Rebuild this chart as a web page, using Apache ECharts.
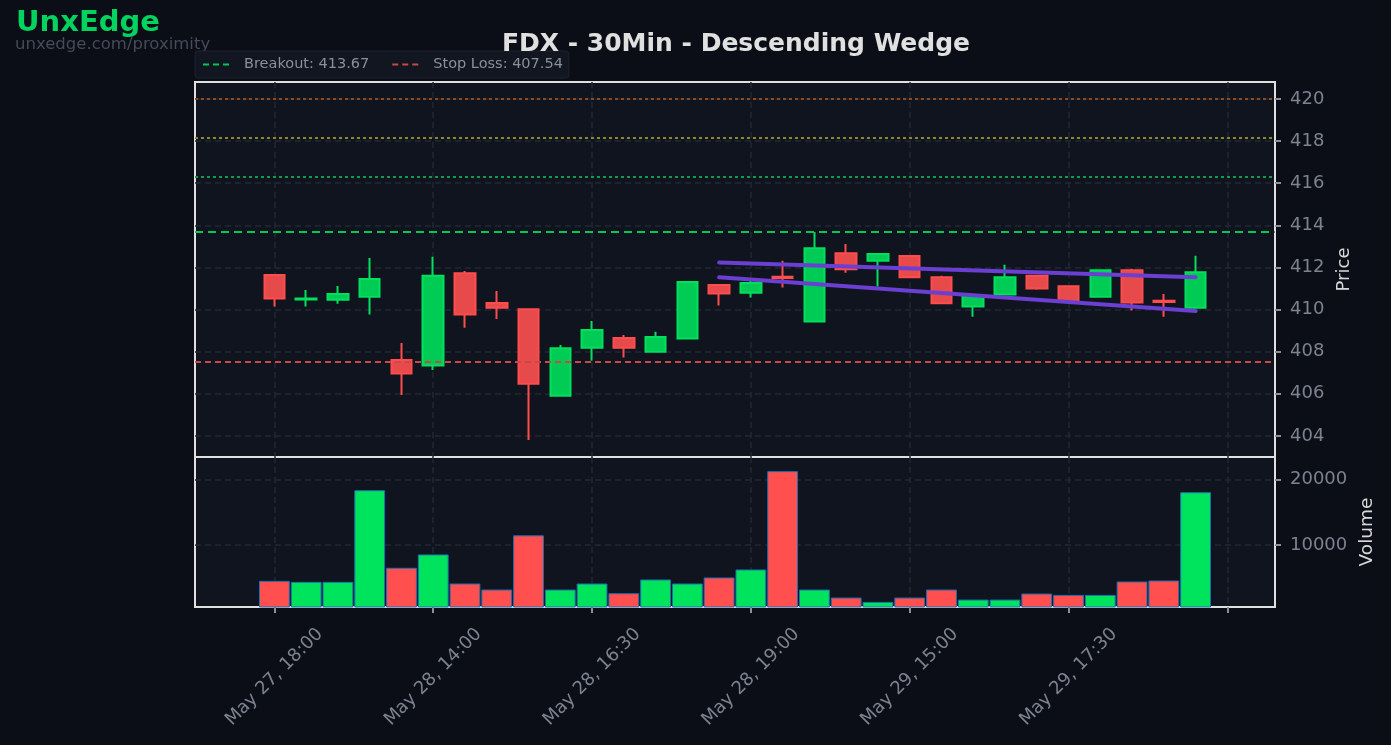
<!DOCTYPE html>
<html><head><meta charset="utf-8">
<script src="https://cdn.jsdelivr.net/npm/echarts@6/dist/echarts.min.js"></script>
<style>html,body{margin:0;padding:0;background:#0b0e17;}#c{width:1391px;height:745px;}</style>
</head><body><div id="c"></div>
<script>
// ---- data ----
const times = [
  'May 27, 18:00','May 27, 18:30','May 27, 19:00','May 27, 19:30',
  'May 28, 13:30','May 28, 14:00','May 28, 14:30','May 28, 15:00','May 28, 15:30','May 28, 16:00',
  'May 28, 16:30','May 28, 17:00','May 28, 17:30','May 28, 18:00','May 28, 18:30','May 28, 19:00','May 28, 19:30',
  'May 29, 13:30','May 29, 14:00','May 29, 14:30','May 29, 15:00','May 29, 15:30','May 29, 16:00',
  'May 29, 16:30','May 29, 17:00','May 29, 17:30','May 29, 18:00','May 29, 18:30','May 29, 19:00','May 29, 19:30'
];
const opens  = [411.64,410.48,410.47,410.61,407.61,407.34,411.72,410.31,410.01,405.91,408.19,408.65,408.00,408.62,411.17,410.80,411.56,409.43,412.67,412.32,412.54,411.53,410.14,410.71,411.60,411.10,410.61,411.87,410.42,410.09];
const closes = [410.52,410.52,410.74,411.45,406.96,411.60,409.76,410.09,406.48,408.16,409.03,408.19,408.70,411.31,410.76,411.26,411.50,412.91,411.91,412.64,411.53,410.30,410.69,411.53,411.00,410.42,411.87,410.33,410.36,411.77];
const lows   = [410.14,410.14,410.28,409.76,405.94,407.13,409.13,409.55,403.81,405.90,407.57,407.72,407.99,408.60,410.19,410.57,411.04,409.41,411.75,411.09,411.51,410.28,409.66,410.69,410.94,410.40,410.59,409.95,409.66,410.07];
const highs  = [411.66,410.93,411.12,412.45,408.41,412.50,411.83,410.88,410.03,408.32,409.46,408.79,408.94,411.33,411.19,411.40,412.31,413.68,413.11,412.66,412.56,411.60,410.74,412.12,411.62,411.12,411.89,411.93,410.74,412.55];
const volumes = [4513,4359,4359,18410,6513,8564,4103,3179,11487,3179,4103,2615,4718,4103,5026,6256,21333,3179,1949,1282,1949,3179,1641,1641,2564,2359,2359,4410,4564,18103];

const breakout = 413.67;
const stopLoss = 407.54;
const targets = [420.00, 418.15, 416.30];
const wedgeStart = 14, wedgeEnd = 29;
const upperWedge = [412.23, 411.53];
const lowerWedge = [411.53, 409.93];

const priceTicks = [404,406,408,410,412,414,416,418,420];
const volumeTicks = [10000, 20000];
const priceRange = [403.0, 420.8];
const volumeRange = [500, 23500];

// ---- build ----
const PAD = 2;
const padFront = [' ', '  '];
const padBack = ['   ', '    '];
const cats = padFront.concat(times, padBack);
const fill = (arr) => ['-','-'].concat(arr, ['-','-']);
const candleData = fill(times.map((t, i) => [opens[i], closes[i], lows[i], highs[i]]));
const GREEN = '#00e35c', RED = '#ff4f4f';
const volData = fill(volumes.map((v, i) => ({
  value: v,
  itemStyle: { color: closes[i] >= opens[i] ? GREEN : RED }
})));
const showIdx = (idx) => idx >= PAD && (idx - PAD) % 5 === 0;
const FONT = 'DejaVu Sans';
const gridLine = { show: true, interval: showIdx, alignWithLabel: true, lineStyle: { color: '#222734', type: [6, 4], width: 1.5 } };
const bName = 'Breakout: ' + breakout.toFixed(2);
const sName = 'Stop Loss: ' + stopLoss.toFixed(2);
const targetColors = ['#8a4b1f', '#8c8a2a', '#139a4e'];

const chart = echarts.init(document.getElementById('c'));
chart.setOption({
  backgroundColor: '#0b0e17',
  animation: false,
  textStyle: { fontFamily: FONT },
  title: {
    text: 'FDX - 30Min - Descending Wedge', left: 731, top: 27, textAlign: 'center',
    textStyle: { color: '#e0e0e0', fontSize: 25, fontWeight: 'bold', fontFamily: FONT }
  },
  graphic: [
    { type: 'text', left: 16, top: 9, style: { text: 'UnxEdge', fill: '#00d35e', font: 'bold 29px "DejaVu Sans"' } },
    { type: 'text', left: 15, top: 36, style: { text: 'unxedge.com/proximity', fill: '#454b57', font: '16.5px "DejaVu Sans"' } }
  ],
  legend: {
    data: [bName, sName], left: 195, top: 51, padding: [6, 6, 6, 7], itemWidth: 28, itemHeight: 14, itemGap: 22,
    backgroundColor: '#121620', borderColor: '#1d2230', borderWidth: 1, borderRadius: 3,
    itemStyle: { opacity: 0 },
    textStyle: { color: '#8a8f99', fontSize: 14.5, fontFamily: FONT, padding: [0, 0, 0, 8] }
  },
  grid: [
    { left: 195, right: 116, top: 82, height: 375, show: true, backgroundColor: '#10141f', borderColor: '#e0e0e0', borderWidth: 2, containLabel: false },
    { left: 195, right: 116, top: 457, height: 150, show: true, backgroundColor: '#10141f', borderColor: '#e0e0e0', borderWidth: 2, containLabel: false }
  ],
  xAxis: [
    { type: 'category', gridIndex: 0, data: cats, boundaryGap: true,
      axisLine: { show: false }, axisTick: { show: false }, axisLabel: { show: false }, splitLine: gridLine },
    { type: 'category', gridIndex: 1, data: cats, boundaryGap: true,
      axisLine: { show: false },
      axisTick: { show: true, interval: showIdx, alignWithLabel: true, length: 6, lineStyle: { color: '#8a8f99', width: 2 } },
      axisLabel: { show: true, interval: showIdx, rotate: 45, align: 'center', verticalAlign: 'middle', margin: 70,
        color: '#7d838e', fontSize: 18, fontFamily: FONT },
      splitLine: gridLine }
  ],
  yAxis: [
    { type: 'value', gridIndex: 0, position: 'right', min: priceRange[0], max: priceRange[1], minInterval: 2, maxInterval: 2,
      axisLine: { show: false },
      axisTick: { show: true, customValues: priceTicks, length: 6, lineStyle: { color: '#8a8f99', width: 2 } },
      axisLabel: { customValues: priceTicks, color: '#7d838e', fontSize: 18, margin: 15, fontFamily: FONT },
      splitLine: { show: true, lineStyle: { color: '#222734', type: [6, 4], width: 1.5 } },
      name: 'Price', nameLocation: 'middle', nameRotate: 90, nameGap: 58,
      nameTextStyle: { color: '#d8d8d8', fontSize: 18, fontFamily: FONT } },
    { type: 'value', gridIndex: 1, position: 'right', min: volumeRange[0], max: volumeRange[1], minInterval: 10000, maxInterval: 10000,
      axisLine: { show: false },
      axisTick: { show: true, customValues: volumeTicks, length: 6, lineStyle: { color: '#8a8f99', width: 2 } },
      axisLabel: { customValues: volumeTicks, color: '#7d838e', fontSize: 18, margin: 15, fontFamily: FONT, formatter: (v) => String(v) },
      splitLine: { show: true, lineStyle: { color: '#222734', type: [6, 4], width: 1.5 } },
      name: 'Volume', nameLocation: 'middle', nameRotate: 90, nameGap: 80,
      nameTextStyle: { color: '#d8d8d8', fontSize: 18.5, fontFamily: FONT } }
  ],
  series: [
    { type: 'candlestick', name: 'FDX', xAxisIndex: 0, yAxisIndex: 0, data: candleData, barWidth: 21,
      itemStyle: { color: '#00cc55', color0: '#e64a4a', borderColor: '#00e05c', borderColor0: '#ff4d4d', borderWidth: 2 },
      markLine: { silent: true, symbol: ['none', 'none'], label: { show: false }, animation: false,
        data: targets.map((t, i) => ({ yAxis: t, lineStyle: { color: targetColors[i], type: [3, 3], width: 2 } })) } },
    { type: 'line', name: bName, xAxisIndex: 0, yAxisIndex: 0, data: [], symbol: 'none',
      lineStyle: { color: '#00c853', type: [6, 4], width: 2 }, itemStyle: { color: '#00c853' },
      markLine: { silent: true, symbol: ['none', 'none'], label: { show: false }, animation: false,
        data: [{ yAxis: breakout }], lineStyle: { color: '#00c853', type: [8, 5], width: 2 } } },
    { type: 'line', name: sName, xAxisIndex: 0, yAxisIndex: 0, data: [], symbol: 'none',
      lineStyle: { color: '#c84848', type: [6, 4], width: 2 }, itemStyle: { color: '#c84848' },
      markLine: { silent: true, symbol: ['none', 'none'], label: { show: false }, animation: false,
        data: [{ yAxis: stopLoss }], lineStyle: { color: '#cc4747', type: [6, 4], width: 2 } } },
    { type: 'line', name: 'Upper', xAxisIndex: 0, yAxisIndex: 0, symbol: 'none',
      data: [[times[wedgeStart], upperWedge[0]], [times[wedgeEnd], upperWedge[1]]],
      lineStyle: { color: '#6a3fd2', width: 4, cap: 'round' } },
    { type: 'line', name: 'Lower', xAxisIndex: 0, yAxisIndex: 0, symbol: 'none',
      data: [[times[wedgeStart], lowerWedge[0]], [times[wedgeEnd], lowerWedge[1]]],
      lineStyle: { color: '#6a3fd2', width: 4, cap: 'round' } },
    { type: 'bar', name: 'Volume', xAxisIndex: 1, yAxisIndex: 1, data: volData, barWidth: '97%',
      itemStyle: { borderColor: '#1f6fb4', borderWidth: 1 } }
  ]
});
</script></body></html>
